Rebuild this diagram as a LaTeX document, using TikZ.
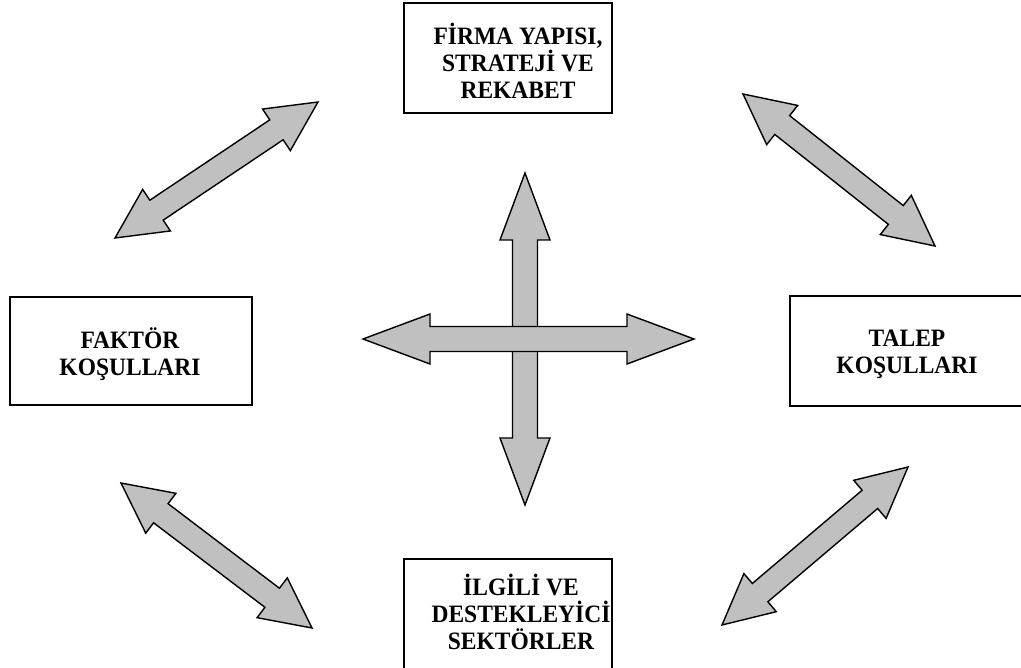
\documentclass[tikz,border=0pt]{standalone}
\usepackage{fontspec}
\setmainfont{Liberation Serif}
\newfontfamily\lblfont[FakeStretch=0.94]{Liberation Serif}
\usetikzlibrary{calc}
\definecolor{arrowgray}{RGB}{192,192,192}
\tikzset{
  box/.style={draw=black, line width=1.5pt, fill=white, inner sep=0pt},
  lbl/.style={font=\lblfont\bfseries\fontsize{25}{27}\selectfont, align=center, inner sep=0pt},
  blockarrow/.style={draw=black, line width=1.4pt, fill=arrowgray, line join=miter},
}
% #1,#2 tip coordinates, #3 shaft half width, #4 head half width, #5 head length
\newcommand\dblblockarrow[5]{%
  \draw[blockarrow] (#1)
    -- ($(#1)!#5!(#2)!#4!90:(#2)$)
    -- ($(#1)!#5!(#2)!#3!90:(#2)$)
    -- ($(#2)!#5!(#1)!#3!-90:(#1)$)
    -- ($(#2)!#5!(#1)!#4!-90:(#1)$)
    -- (#2)
    -- ($(#2)!#5!(#1)!#4!90:(#1)$)
    -- ($(#2)!#5!(#1)!#3!90:(#1)$)
    -- ($(#1)!#5!(#2)!#3!-90:(#2)$)
    -- ($(#1)!#5!(#2)!#4!-90:(#2)$)
    -- cycle;}
\begin{document}
\begin{tikzpicture}[x=1pt,y=-1pt]
\useasboundingbox (0,0) rectangle (1021,668);
\clip (0,0) rectangle (1021,668);

% boxes
\node[box, minimum width=208pt, minimum height=110pt] (firma) at (508,58) {};
\node[lbl] (firmatxt) at (518,61) {FİRMA YAPISI,\\STRATEJİ VE\\REKABET};

\node[box, minimum width=242pt, minimum height=108pt] (faktor) at (131,351) {};
\node[lbl] (faktortxt) at (130,354) {FAKTÖR\\KOŞULLARI};

\node[box, minimum width=234pt, minimum height=110pt] (talep) at (907,351) {};
\node[lbl] (taleptxt) at (907,354) {TALEP\\KOŞULLARI};

\node[box, minimum width=208pt, minimum height=116pt] (ilgili) at (508,617) {};
\node[lbl] (ilgilitxt) at (521,612) {İLGİLİ VE\\DESTEKLEYİCİ\\SEKTÖRLER};

% arrow tips
\coordinate (tlA) at (318,102);  \coordinate (tlB) at (115,238);
\coordinate (trA) at (743,94);   \coordinate (trB) at (935,246);
\coordinate (blA) at (121,483);  \coordinate (blB) at (312,628);
\coordinate (brA) at (908,467);  \coordinate (brB) at (722,625);
\coordinate (vA) at (525,173);   \coordinate (vB) at (525,505);
\coordinate (hA) at (363,339);   \coordinate (hB) at (694,339);

% diagonal double arrows
\dblblockarrow{tlA}{tlB}{12pt}{25pt}{50pt}
\dblblockarrow{trA}{trB}{12pt}{25pt}{50pt}
\dblblockarrow{blA}{blB}{12pt}{25pt}{50pt}
\dblblockarrow{brA}{brB}{12pt}{25pt}{50pt}

% central cross
\dblblockarrow{vA}{vB}{12.5pt}{25pt}{67pt}
\dblblockarrow{hA}{hB}{12.5pt}{25pt}{67pt}
\end{tikzpicture}
\end{document}
